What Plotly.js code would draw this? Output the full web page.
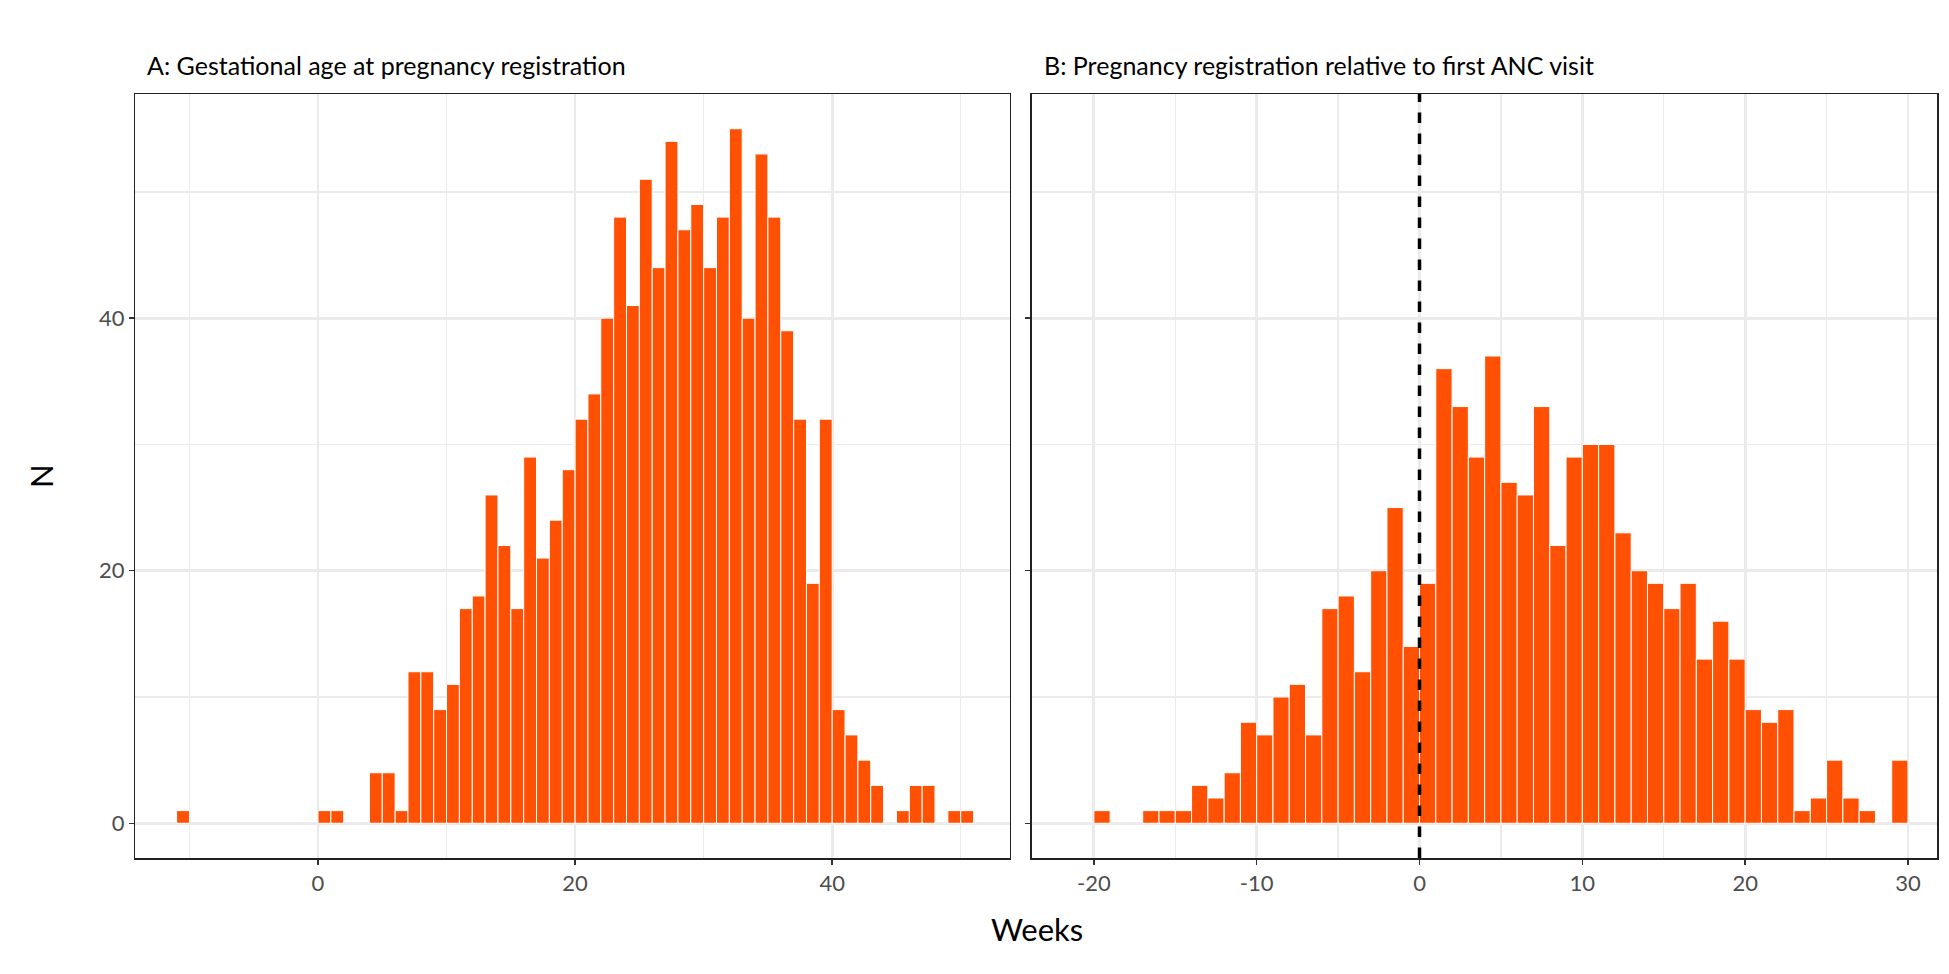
<!DOCTYPE html>
<html>
<head>
<meta charset="utf-8">
<script src="https://cdn.plot.ly/plotly-3.0.1.min.js"></script>
<style>html,body{margin:0;padding:0;background:#fff}#chart{width:1949px;height:974px}</style>
</head>
<body>
<div id="chart"></div>
<script>
// Panel A: gestational age at registration (bin centres, weeks) and counts
const gaWeeks = [-10.5, 0.5, 1.5, 4.5, 5.5, 6.5, 7.5, 8.5, 9.5, 10.5, 11.5, 12.5, 13.5, 14.5, 15.5,
  16.5, 17.5, 18.5, 19.5, 20.5, 21.5, 22.5, 23.5, 24.5, 25.5, 26.5, 27.5, 28.5, 29.5, 30.5, 31.5,
  32.5, 33.5, 34.5, 35.5, 36.5, 37.5, 38.5, 39.5, 40.5, 41.5, 42.5, 43.5, 45.5, 46.5, 47.5, 49.5, 50.5];
const gaCounts = [1, 1, 1, 4, 4, 1, 12, 12, 9, 11, 17, 18, 26, 22, 17,
  29, 21, 24, 28, 32, 34, 40, 48, 41, 51, 44, 54, 47, 49, 44, 48,
  55, 40, 53, 48, 39, 32, 19, 32, 9, 7, 5, 3, 1, 3, 3, 1, 1];

// Panel B: registration relative to first ANC visit
const relWeeks = [-19.5, -16.5, -15.5, -14.5, -13.5, -12.5, -11.5, -10.5, -9.5, -8.5, -7.5, -6.5,
  -5.5, -4.5, -3.5, -2.5, -1.5, -0.5, 0.5, 1.5, 2.5, 3.5, 4.5, 5.5, 6.5, 7.5, 8.5, 9.5, 10.5,
  11.5, 12.5, 13.5, 14.5, 15.5, 16.5, 17.5, 18.5, 19.5, 20.5, 21.5, 22.5, 23.5, 24.5, 25.5,
  26.5, 27.5, 29.5];
const relCounts = [1, 1, 1, 1, 3, 2, 4, 8, 7, 10, 11, 7,
  17, 18, 12, 20, 25, 14, 19, 36, 33, 29, 37, 27, 26, 33, 22, 29, 30,
  30, 23, 20, 19, 17, 19, 13, 16, 13, 9, 8, 9, 1, 2, 5,
  2, 1, 5];

const yTicks = [0, 20, 40];
const aTicks = [0, 20, 40];
const bTicks = [-20, -10, 0, 10, 20, 30];
const bTickText = ['-20', '-10', '0', '10', '20', '30'];

const BAR = '#ff5004';
const GRID = '#ebebeb';
const FONT = 'Lato, "Open Sans", sans-serif';

const barTrace = (x, y, axis) => ({
  type: 'bar', x, y, width: 1,
  xaxis: 'x' + axis, yaxis: 'y' + axis,
  marker: { color: BAR, line: { color: '#ffffff', width: 1 } },
  hoverinfo: 'x+y', showlegend: false
});

const traces = [
  barTrace(gaWeeks, gaCounts, ''),
  barTrace(relWeeks, relCounts, '2')
];

const minorGrid = (vals) => ({ tickvals: vals, showgrid: true, gridcolor: GRID, gridwidth: 1.3 });

const axisBase = {
  showgrid: true, gridcolor: GRID, gridwidth: 2.8,
  zeroline: false, showline: true, mirror: true, linecolor: '#222', linewidth: 1.5,
  ticks: 'outside', ticklen: 5, tickwidth: 1.5, tickcolor: '#333',
  tickfont: { family: FONT, size: 22, color: '#4d4d4d' }
};

const layout = {
  width: 1949, height: 974,
  margin: { l: 0, r: 0, t: 94, b: 116 },
  paper_bgcolor: '#ffffff', plot_bgcolor: '#ffffff',
  font: { family: FONT, color: '#000' },
  bargap: 0,
  xaxis: Object.assign({}, axisBase, {
    domain: [0.0695, 0.518], range: [-14.2, 53.8],
    tickvals: aTicks, minor: minorGrid([-10, 10, 30, 50])
  }),
  yaxis: Object.assign({}, axisBase, {
    anchor: 'x', range: [-2.75, 57.75], tickvals: yTicks,
    minor: minorGrid([10, 30, 50])
  }),
  xaxis2: Object.assign({}, axisBase, {
    domain: [0.5295, 0.994], range: [-23.8, 31.8], anchor: 'y2',
    tickvals: bTicks, ticktext: bTickText,
    minor: minorGrid([-15, -5, 5, 15, 25])
  }),
  yaxis2: Object.assign({}, axisBase, {
    anchor: 'x2', range: [-2.75, 57.75], tickvals: yTicks, showticklabels: false,
    minor: minorGrid([10, 30, 50])
  }),
  shapes: [{
    type: 'line', xref: 'x2', yref: 'y2 domain', x0: 0, x1: 0, y0: 0, y1: 1,
    line: { color: '#000', width: 3.5, dash: 'dash' }
  }],
  annotations: [
    { text: 'A: Gestational age at pregnancy registration', xref: 'paper', yref: 'paper',
      x: 0.0695, y: 1, xshift: 10, yshift: 12, xanchor: 'left', yanchor: 'bottom', showarrow: false,
      font: { family: FONT, size: 25, color: '#000' } },
    { text: 'B: Pregnancy registration relative to first ANC visit', xref: 'paper', yref: 'paper',
      x: 0.5295, y: 1, xshift: 10, yshift: 12, xanchor: 'left', yanchor: 'bottom', showarrow: false,
      font: { family: FONT, size: 25, color: '#000' } },
    { text: 'Weeks', xref: 'paper', yref: 'paper', x: 0.532, y: 0, yshift: -50,
      xanchor: 'center', yanchor: 'top', showarrow: false,
      font: { family: FONT, size: 31, color: '#000' } },
    { text: 'N', xref: 'paper', yref: 'paper', x: 0.021, y: 0.5, textangle: -90,
      xanchor: 'center', yanchor: 'middle', showarrow: false,
      font: { family: FONT, size: 31, color: '#000' } }
  ]
};

Plotly.newPlot('chart', traces, layout, { displayModeBar: false, staticPlot: true });
</script>
</body>
</html>
